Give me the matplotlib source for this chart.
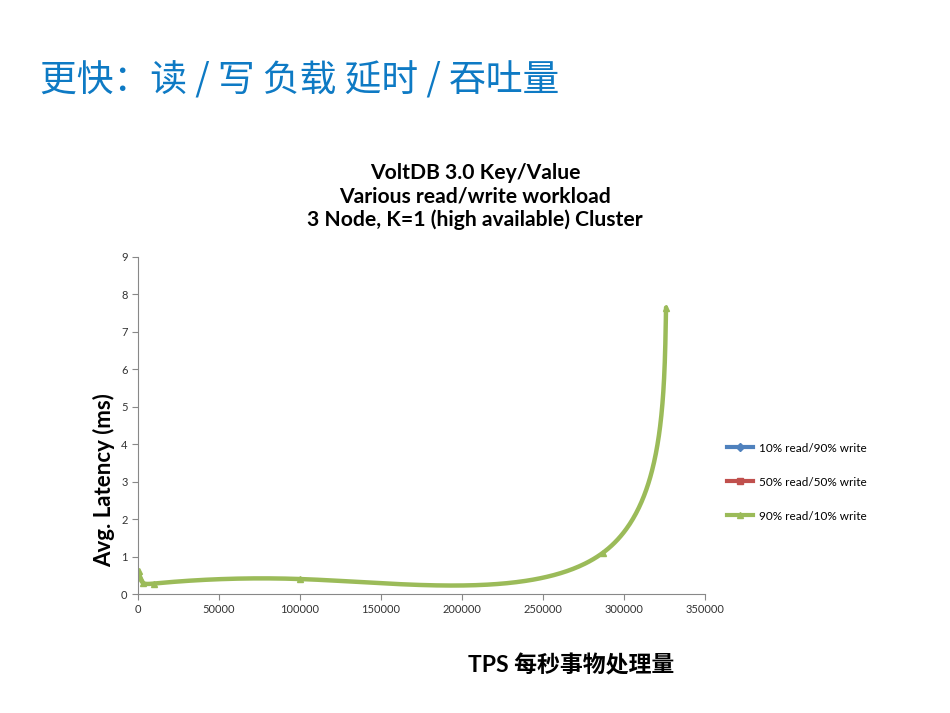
import numpy as np
import matplotlib
matplotlib.use('Agg')
import matplotlib.pyplot as plt

plt.rcParams['font.family'] = ['Lato', 'Noto Sans CJK SC', 'DejaVu Sans']

# Data (90% read / 10% write series)
tps_90r = [300, 1200, 3000, 10000, 100000, 287000, 326000]
lat_90r = [0.62, 0.45, 0.30, 0.28, 0.40, 1.10, 7.65]
# the other two series are not visible in the picture
tps_10r, lat_10r = [], []
tps_50r, lat_50r = [], []

x_max = 350000
y_max = 9
x_ticks = list(range(0, 350001, 50000))
y_ticks = list(range(0, 10))

heading = '更快：读 / 写 负载 延时 / 吞吐量'
title = 'VoltDB 3.0 Key/Value\nVarious read/write workload\n3 Node, K=1 (high available) Cluster'


def smooth(xs, ys, n=500, alpha=0.5):
    # parametric natural cubic spline, like Excel's "smoothed line"
    u = np.array(xs) / x_max * 567
    v = np.array(ys) / y_max * 337
    d = np.hypot(np.diff(u), np.diff(v)) ** alpha
    t = np.concatenate([[0], np.cumsum(d)])
    m = len(t)

    def spline(p):
        h = np.diff(t)
        A = np.zeros((m, m))
        b = np.zeros(m)
        A[0, 0] = A[-1, -1] = 1
        for i in range(1, m - 1):
            A[i, i - 1] = h[i - 1]
            A[i, i] = 2 * (h[i - 1] + h[i])
            A[i, i + 1] = h[i]
            b[i] = 6 * ((p[i + 1] - p[i]) / h[i] - (p[i] - p[i - 1]) / h[i - 1])
        M = np.linalg.solve(A, b)
        tt = np.linspace(0, t[-1], n)
        k = np.clip(np.searchsorted(t, tt) - 1, 0, m - 2)
        a = t[k + 1] - tt
        c = tt - t[k]
        hk = h[k]
        return (M[k] * a ** 3 / (6 * hk) + M[k + 1] * c ** 3 / (6 * hk)
                + (p[k] / hk - M[k] * hk / 6) * a + (p[k + 1] / hk - M[k + 1] * hk / 6) * c)

    return spline(u) * x_max / 567, spline(v) * y_max / 337


fig = plt.figure(figsize=(9.5, 7.13), dpi=100)
fig.text(0.042, 0.886, heading, fontsize=26.5, color='#0E7AC4', va='center', ha='left',
         family=['Noto Sans CJK SC', 'DejaVu Sans'])
fig.text(0.5, 0.724, title, fontsize=15.2, fontweight='bold', ha='center', va='center',
         linespacing=1.2)

ax = fig.add_axes([0.1453, 0.1669, 0.742 - 0.1453, 0.6396 - 0.1669])

green = '#9BBB59'
sx, sy = smooth(tps_90r, lat_90r)
ax.plot(tps_10r, lat_10r, color='#4F81BD', lw=3, marker='D', ms=4, label='10% read/90% write')
ax.plot(tps_50r, lat_50r, color='#C0504D', lw=3, marker='s', ms=4, label='50% read/50% write')
ax.plot(sx, sy, color=green, lw=3.2, solid_capstyle='round')
ax.plot(tps_90r, lat_90r, color=green, lw=0, marker='^', ms=5)
ax.plot([], [], color=green, lw=3, marker='^', ms=5, label='90% read/10% write')

ax.set_xlim(0, x_max)
ax.set_ylim(0, y_max)
ax.set_xticks(x_ticks)
ax.set_yticks(y_ticks)
ax.tick_params(labelsize=8, colors='#333333', length=4, width=0.8)
ax.tick_params(axis='x', color='#888888')
ax.tick_params(axis='y', color='#888888')
for s in ['top', 'right']:
    ax.spines[s].set_visible(False)
for s in ['left', 'bottom']:
    ax.spines[s].set_color('#888888')
    ax.spines[s].set_linewidth(0.8)

ax.set_ylabel('Avg. Latency (ms)', fontsize=16, fontweight='bold')
ax.yaxis.set_label_coords(-0.04, 0.338)
fig.text(0.601, 0.067, 'TPS 每秒事物处理量', fontsize=16.5, fontweight='bold', ha='center', va='center')

leg = ax.legend(loc='center left', bbox_to_anchor=(1.02, 0.332), frameon=False, fontsize=8.5,
                handlelength=2.2, labelspacing=1.95, handletextpad=0.5)

fig.savefig('out.png', dpi=100)
